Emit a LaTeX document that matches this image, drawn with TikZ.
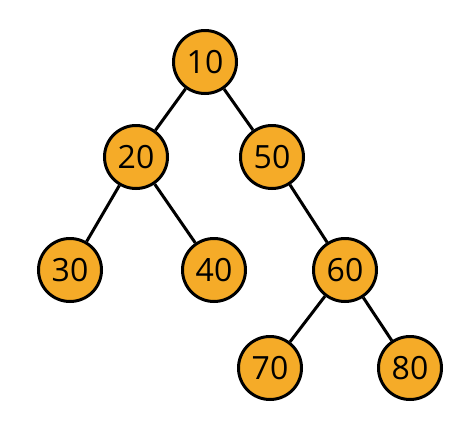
\documentclass[tikz,border=0pt]{standalone}
\usepackage{fontspec}
\setmainfont{Open Sans}
\definecolor{nodefill}{HTML}{F5AB28}
\begin{document}
\begin{tikzpicture}[x=1pt,y=-1pt,
  treenode/.style={circle,draw=black,line width=3pt,fill=nodefill,minimum size=63pt,inner sep=0pt,font=\fontsize{32}{36}\selectfont},
  edge/.style={line width=3pt,black}]
\useasboundingbox (0,0) rectangle (474,429);
\node[treenode] (n10) at (205,62) {10};
\node[treenode] (n20) at (136,157) {20};
\node[treenode] (n50) at (272,157) {50};
\node[treenode] (n30) at (70,270) {30};
\node[treenode] (n40) at (214,270) {40};
\node[treenode] (n60) at (345,270) {60};
\node[treenode] (n70) at (270,368) {70};
\node[treenode] (n80) at (410,368) {80};
\draw[edge] (n10) -- (n20);
\draw[edge] (n10) -- (n50);
\draw[edge] (n20) -- (n30);
\draw[edge] (n20) -- (n40);
\draw[edge] (n50) -- (n60);
\draw[edge] (n60) -- (n70);
\draw[edge] (n60) -- (n80);
\end{tikzpicture}
\end{document}
